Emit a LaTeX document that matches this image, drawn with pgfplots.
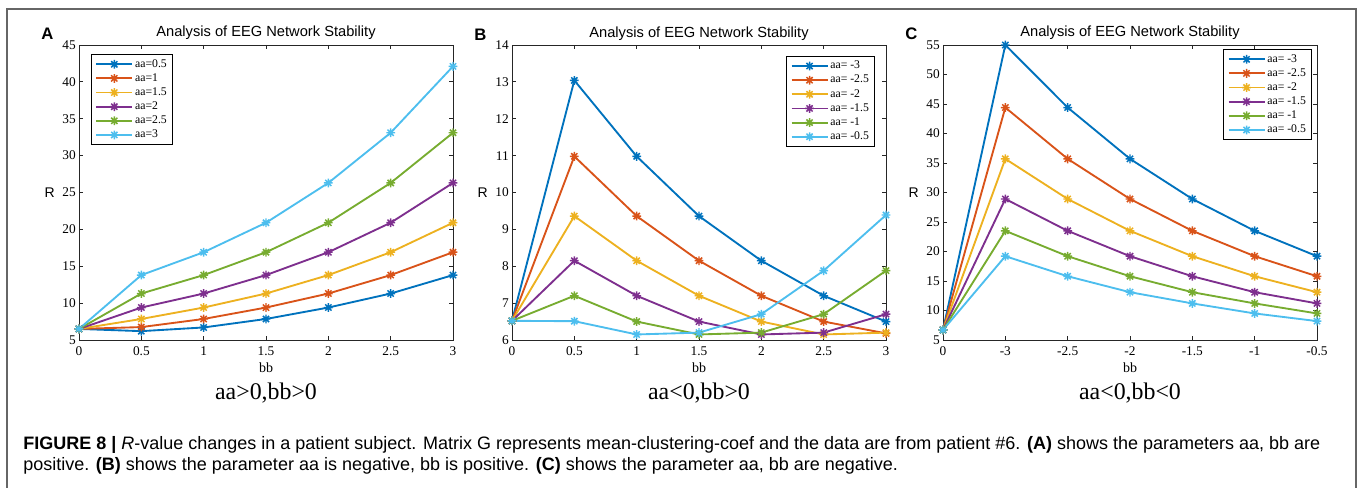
\documentclass[border=0pt]{standalone}
\usepackage{fontspec}
\setmainfont{Liberation Serif}
\newfontfamily\arial{Liberation Sans}
\usepackage{pgfplots}
\usepackage{pgfplotstable}
\pgfplotsset{compat=1.18}

% MATLAB default line colours
\definecolor{mblue}{RGB}{0,114,189}
\definecolor{mred}{RGB}{217,83,25}
\definecolor{myellow}{RGB}{237,177,32}
\definecolor{mpurple}{RGB}{126,47,142}
\definecolor{mgreen}{RGB}{119,172,48}
\definecolor{mcyan}{RGB}{77,190,238}

% MATLAB-like '*' marker (plus and cross)
\pgfdeclareplotmark{mstar}{%
  \pgfpathmoveto{\pgfqpoint{-\pgfplotmarksize}{0pt}}%
  \pgfpathlineto{\pgfqpoint{\pgfplotmarksize}{0pt}}%
  \pgfpathmoveto{\pgfqpoint{0pt}{-\pgfplotmarksize}}%
  \pgfpathlineto{\pgfqpoint{0pt}{\pgfplotmarksize}}%
  \pgfpathmoveto{\pgfqpoint{-0.707\pgfplotmarksize}{-0.707\pgfplotmarksize}}%
  \pgfpathlineto{\pgfqpoint{0.707\pgfplotmarksize}{0.707\pgfplotmarksize}}%
  \pgfpathmoveto{\pgfqpoint{-0.707\pgfplotmarksize}{0.707\pgfplotmarksize}}%
  \pgfpathlineto{\pgfqpoint{0.707\pgfplotmarksize}{-0.707\pgfplotmarksize}}%
  \pgfusepathqstroke}

\pgfplotscreateplotcyclelist{matlab}{
  {mblue, mark=mstar},
  {mred, mark=mstar},
  {myellow, mark=mstar},
  {mpurple, mark=mstar},
  {mgreen, mark=mstar},
  {mcyan, mark=mstar}}

% panel A: aa>0, bb>0
\pgfplotstableread{
x   s1    s2    s3    s4    s5    s6
0   6.5   6.5   6.5   6.5   6.5   6.5
0.5 6.2   6.75  7.85  9.4   11.3  13.8
1   6.7   7.85  9.4   11.3  13.8  16.9
1.5 7.85  9.4   11.3  13.8  16.9  20.9
2   9.4   11.3  13.8  16.9  20.9  26.3
2.5 11.3  13.8  16.9  20.9  26.3  33.1
3   13.8  16.9  20.9  26.3  33.1  42.1
}\tabA

% panel B: aa<0, bb>0
\pgfplotstableread{
x   s1    s2    s3    s4    s5    s6
0   6.52  6.52  6.52  6.52  6.52  6.52
0.5 13.04 10.98 9.36  8.15  7.2   6.51
1   10.98 9.36  8.15  7.2   6.5   6.15
1.5 9.36  8.15  7.2   6.5   6.15  6.2
2   8.15  7.2   6.5   6.15  6.2   6.7
2.5 7.2   6.5   6.15  6.2   6.7   7.88
3   6.5   6.18  6.2   6.7   7.88  9.39
}\tabB

% panel C: aa<0, bb<0 (x = category index)
\pgfplotstableread{
x   s1    s2    s3    s4    s5    s6
0   6.7   6.7   6.7   6.7   6.7   6.7
1   55.0  44.4  35.7  28.9  23.5  19.2
2   44.4  35.7  28.9  23.5  19.2  15.8
3   35.7  28.9  23.5  19.2  15.8  13.1
4   28.9  23.5  19.2  15.8  13.1  11.2
5   23.5  19.2  15.8  13.1  11.2  9.5
6   19.2  15.8  13.1  11.2  9.5   8.2
}\tabC

\pgfplotsset{
  eeg/.style={
    width=280.5pt, height=221.25pt, scale only axis, clip=false,
    anchor=south west,
    tick align=inside, major tick length=3pt,
    axis line style={line width=0.6pt, black!85},
    every tick/.style={line width=0.6pt, black!85},
    /pgf/number format/assume math mode=true,
    tick label style={font=\fontsize{10}{11}\selectfont},
    xticklabel style={inner sep=0pt, yshift=-5pt},
    yticklabel style={inner sep=0pt, xshift=-2.25pt},
    xlabel={bb}, ylabel={R},
    xlabel style={at={(rel axis cs:0.5,0)}, anchor=base, yshift=-24.75pt,
      inner sep=0pt, font=\fontsize{10.5}{12}\selectfont},
    ylabel style={at={(rel axis cs:0,0.5)}, rotate=-90, anchor=east,
      xshift=-18pt, inner sep=0pt, font=\arial\fontsize{10.5}{12}\selectfont},
    cycle list name=matlab,
    every axis plot/.append style={line width=1.4pt, mark size=3.3pt,
      mark options={solid, line width=1.1pt}},
    legend cell align=left,
    legend style={draw=black, line width=0.6pt, fill=white,
      inner xsep=3pt, inner ysep=2pt, font=\fontsize{8.8}{10}\selectfont,
      nodes={inner sep=1.4pt, text height=6pt, text depth=1.8pt}},
    legend image code/.code={\draw[line width=1.4pt, mark size=3.3pt,
      mark options={solid, line width=1.1pt}, mark repeat=2, mark phase=2, #1]
      plot coordinates {(0pt,0pt) (13.5pt,0pt) (27pt,0pt)};},
  },
}
\tikzset{
  letter/.style={anchor=base west, inner sep=0pt,
    font=\arial\bfseries\fontsize{12.5}{14}\selectfont, xshift=-28.5pt, yshift=3.75pt},
  ptitle/.style={anchor=base, inner sep=0pt,
    font=\arial\fontsize{11}{13}\selectfont, yshift=6pt},
  subcap/.style={anchor=base, inner sep=0pt,
    font=\fontsize{17.9}{20}\selectfont, yshift=-45pt},
}

\begin{document}
\begin{tikzpicture}
\useasboundingbox (0pt,0pt) rectangle (1023.75pt,366pt);

% A
\begin{axis}[eeg, at={(59.25pt,111pt)},
  xmin=0, xmax=3, ymin=5, ymax=45,
  xtick={0,0.5,...,3}, ytick={5,10,...,45},
  legend style={at={(0.032,0.969)}, anchor=north west}]
\addplot table[x=x, y=s1] {\tabA};
\addplot table[x=x, y=s2] {\tabA};
\addplot table[x=x, y=s3] {\tabA};
\addplot table[x=x, y=s4] {\tabA};
\addplot table[x=x, y=s5] {\tabA};
\addplot table[x=x, y=s6] {\tabA};
\legend{aa=0.5, aa=1, aa=1.5, aa=2, aa=2.5, aa=3}
\node[letter] at (rel axis cs:0,1) {A};
\node[ptitle] at (rel axis cs:0.5,1) {Analysis of EEG Network Stability};
\node[subcap] at (rel axis cs:0.5,0) {aa>0,bb>0};
\end{axis}

% B
\begin{axis}[eeg, at={(384pt,111pt)},
  xmin=0, xmax=3, ymin=6, ymax=14,
  xtick={0,0.5,...,3}, ytick={6,7,...,14},
  legend style={at={(0.971,0.963)}, anchor=north east}]
\addplot table[x=x, y=s1] {\tabB};
\addplot table[x=x, y=s2] {\tabB};
\addplot table[x=x, y=s3] {\tabB};
\addplot table[x=x, y=s4] {\tabB};
\addplot table[x=x, y=s5] {\tabB};
\addplot table[x=x, y=s6] {\tabB};
\legend{aa= -3, aa= -2.5, aa= -2, aa= -1.5, aa= -1, aa= -0.5}
\node[letter] at (rel axis cs:0,1) {B};
\node[ptitle] at (rel axis cs:0.5,1) {Analysis of EEG Network Stability};
\node[subcap] at (rel axis cs:0.5,0) {aa<0,bb>0};
\end{axis}

% C
\begin{axis}[eeg, at={(707.25pt,111pt)},
  xmin=0, xmax=6, ymin=5, ymax=55,
  xtick={0,...,6}, xticklabels={0,-3,-2.5,-2,-1.5,-1,-0.5},
  ytick={5,10,...,55},
  legend style={at={(0.987,0.986)}, anchor=north east}]
\addplot table[x=x, y=s1] {\tabC};
\addplot table[x=x, y=s2] {\tabC};
\addplot table[x=x, y=s3] {\tabC};
\addplot table[x=x, y=s4] {\tabC};
\addplot table[x=x, y=s5] {\tabC};
\addplot table[x=x, y=s6] {\tabC};
\legend{aa= -3, aa= -2.5, aa= -2, aa= -1.5, aa= -1, aa= -0.5}
\node[letter] at (rel axis cs:0,1) {C};
\node[ptitle] at (rel axis cs:0.5,1) {Analysis of EEG Network Stability};
\node[subcap] at (rel axis cs:0.5,0) {aa<0,bb<0};
\end{axis}

% figure frame
\draw[black!60, line width=1pt] (5.25pt,0pt) -- (5.25pt,359.25pt)
  -- (1017pt,359.25pt) -- (1017pt,0pt);

% caption
\begin{scope}[every node/.style={anchor=base west, inner sep=0pt,
    font=\arial\fontsize{13.5}{16}\selectfont}]
\node at (17.25pt,28.5pt) {\textbf{FIGURE 8 |} \textit{R}-value changes in a patient subject. Matrix G represents mean-clustering-coef and the data are from patient \#6. \textbf{(A)} shows the parameters aa, bb are};
\node at (17.25pt,12.75pt) {positive. \textbf{(B)} shows the parameter aa is negative, bb is positive. \textbf{(C)} shows the parameter aa, bb are negative.};
\end{scope}
\end{tikzpicture}
\end{document}
